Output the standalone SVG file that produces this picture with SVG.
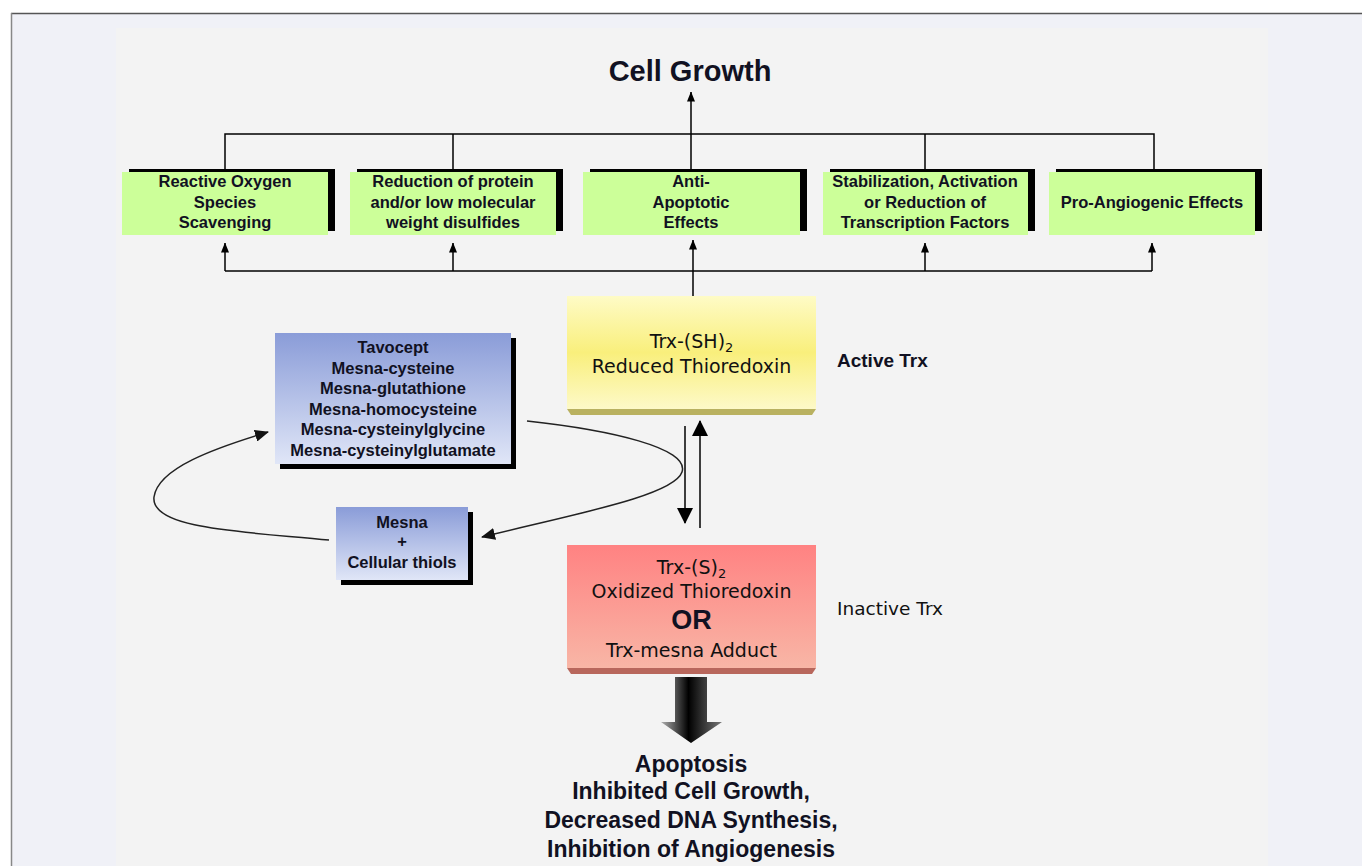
<svg xmlns="http://www.w3.org/2000/svg" width="1362" height="866" viewBox="0 0 1362 866">
<defs>
<style>
.g{fill:#ccff99}
.sh{fill:#000}
.bt{font-family:"Liberation Sans",Arial,sans-serif;font-weight:bold;fill:#111122;text-anchor:middle}
.rt{font-family:"DejaVu Sans",Verdana,sans-serif;fill:#111;text-anchor:middle}
.st{text-anchor:start}
.ln{fill:none;stroke:#000;stroke-width:1.5}
.cv{fill:none;stroke:#222;stroke-width:1.5}
</style>
<marker id="sa" viewBox="0 0 10 8" refX="9.5" refY="4" markerWidth="10" markerHeight="8" markerUnits="userSpaceOnUse" orient="auto"><path d="M0,0 L10,4 L0,8 z" fill="#000"/></marker>
<marker id="ba" viewBox="0 0 16 16" refX="15" refY="8" markerWidth="16" markerHeight="16" markerUnits="userSpaceOnUse" orient="auto"><path d="M0,0 L16,8 L0,16 z" fill="#000"/></marker>
<marker id="ca" viewBox="0 0 14 12" refX="13" refY="6" markerWidth="14" markerHeight="12" markerUnits="userSpaceOnUse" orient="auto"><path d="M0,0 L14,6 L0,12 z" fill="#111"/></marker>
<linearGradient id="blue" x1="0" y1="0" x2="0" y2="1"><stop offset="0" stop-color="#8a9cd8"/><stop offset="1" stop-color="#e0e6f7"/></linearGradient>
<linearGradient id="yel" x1="0" y1="0" x2="0" y2="1"><stop offset="0" stop-color="#fefbc6"/><stop offset="0.5" stop-color="#f9ef7c"/><stop offset="1" stop-color="#fdf9c8"/></linearGradient>
<linearGradient id="red" x1="0" y1="0" x2="0" y2="1"><stop offset="0" stop-color="#ff8282"/><stop offset="1" stop-color="#f8b6a6"/></linearGradient>
<linearGradient id="arr" x1="0" y1="0" x2="1" y2="0"><stop offset="0" stop-color="#b0b0b0"/><stop offset="0.45" stop-color="#000"/><stop offset="1" stop-color="#777"/></linearGradient>
</defs>
<rect x="0" y="0" width="1362" height="866" fill="#ffffff"/>
<rect x="12" y="14" width="1350" height="852" fill="#f0f1f7"/>
<rect x="116" y="28" width="1152" height="838" fill="#f3f3f3"/>
<line x1="11" y1="13.5" x2="1362" y2="13.5" stroke="#555" stroke-width="1.5"/>
<line x1="11.5" y1="13" x2="11.5" y2="866" stroke="#888" stroke-width="1.5"/>

<g id="connectors">
<path class="ln" d="M691,134 L691,92" marker-end="url(#sa)"/>
<path class="ln" d="M225,170 L225,134 L1154,134 L1154,170"/>
<path class="ln" d="M453,134 L453,170 M925,134 L925,170 M691,134 L691,170"/>
<path class="ln" d="M225,271 L1152,271"/>
<path class="ln" d="M225,271 L225,243" marker-end="url(#sa)"/>
<path class="ln" d="M453,271 L453,243" marker-end="url(#sa)"/>
<path class="ln" d="M925,271 L925,243" marker-end="url(#sa)"/>
<path class="ln" d="M1152,271 L1152,243" marker-end="url(#sa)"/>
<path class="ln" d="M693,296 L693,240" marker-end="url(#sa)"/>
<path class="ln" d="M685,426 L685,523" marker-end="url(#ba)"/>
<path class="ln" d="M700,528 L700,421" marker-end="url(#ba)"/>
<path class="cv" d="M329,540 C250,532 150,530 154,497 C158,468 215,448 268,432" marker-end="url(#ca)"/>
<path class="cv" d="M527,421 C610,430 690,448 682,472 C674,496 570,515 482,537" marker-end="url(#ca)"/>
</g>

<g id="title"><text class="bt" x="690" y="81" font-size="29" fill="#000">Cell Growth</text></g>

<g id="ros">
<rect class="sh" x="129" y="169" width="206" height="62"/>
<rect class="g" x="122" y="172" width="206" height="63"/>
<text class="bt" font-size="16.5" x="225" y="187">Reactive Oxygen</text>
<text class="bt" font-size="16.5" x="225" y="208">Species</text>
<text class="bt" font-size="16.5" x="225" y="228">Scavenging</text>
</g>
<g id="reduction">
<rect class="sh" x="357" y="169" width="206" height="62"/>
<rect class="g" x="350" y="172" width="206" height="63"/>
<text class="bt" font-size="16.5" x="453" y="187">Reduction of protein</text>
<text class="bt" font-size="16.5" x="453" y="208">and/or low molecular</text>
<text class="bt" font-size="16.5" x="453" y="228">weight disulfides</text>
</g>
<g id="antiapoptotic">
<rect class="sh" x="590" y="169" width="217" height="62"/>
<rect class="g" x="583" y="172" width="217" height="63"/>
<text class="bt" font-size="16.5" x="691" y="187">Anti-</text>
<text class="bt" font-size="16.5" x="691" y="208">Apoptotic</text>
<text class="bt" font-size="16.5" x="691" y="228">Effects</text>
</g>
<g id="transcription">
<rect class="sh" x="830" y="169" width="205" height="62"/>
<rect class="g" x="823" y="172" width="205" height="63"/>
<text class="bt" font-size="16.5" x="925" y="187">Stabilization, Activation</text>
<text class="bt" font-size="16.5" x="925" y="208">or Reduction of</text>
<text class="bt" font-size="16.5" x="925" y="228">Transcription Factors</text>
</g>
<g id="angiogenic">
<rect class="sh" x="1056" y="169" width="206" height="62"/>
<rect class="g" x="1049" y="172" width="206" height="63"/>
<text class="bt" font-size="16.5" x="1152" y="208">Pro-Angiogenic Effects</text>
</g>

<g id="reducedTrx">
<polygon points="567,409 816,409 812,415 571,415" fill="#b9b160"/>
<rect x="567" y="296" width="249" height="113" fill="url(#yel)"/>
<text class="rt" font-size="19" x="691.5" y="348">Trx-(SH)<tspan font-size="13" dy="4">2</tspan></text>
<text class="rt" font-size="19" x="691.5" y="373">Reduced Thioredoxin</text>
</g>
<g id="activeLabel"><text class="bt st" font-size="19" x="837" y="367">Active Trx</text></g>

<g id="compounds">
<rect class="sh" x="280" y="338" width="236" height="131"/>
<rect x="275" y="333" width="236" height="131" fill="url(#blue)"/>
<text class="bt" font-size="16.5" x="393" y="353">Tavocept</text>
<text class="bt" font-size="16.5" x="393" y="373.5">Mesna-cysteine</text>
<text class="bt" font-size="16.5" x="393" y="394">Mesna-glutathione</text>
<text class="bt" font-size="16.5" x="393" y="414.5">Mesna-homocysteine</text>
<text class="bt" font-size="16.5" x="393" y="435">Mesna-cysteinylglycine</text>
<text class="bt" font-size="16.5" x="393" y="455.5">Mesna-cysteinylglutamate</text>
</g>

<g id="mesna">
<rect class="sh" x="341" y="512" width="132" height="73"/>
<rect x="336" y="507" width="132" height="73" fill="url(#blue)"/>
<text class="bt" font-size="16.5" x="402" y="528">Mesna</text>
<text class="bt" font-size="16.5" x="402" y="547">+</text>
<text class="bt" font-size="16.5" x="402" y="568">Cellular thiols</text>
</g>

<g id="oxidizedTrx">
<polygon points="567,668 816,668 812,674 571,674" fill="#b8675c"/>
<rect x="567" y="545" width="249" height="123" fill="url(#red)"/>
<text class="rt" font-size="19" x="691.5" y="574">Trx-(S)<tspan font-size="13" dy="4">2</tspan></text>
<text class="rt" font-size="19" x="691.5" y="598">Oxidized Thioredoxin</text>
<text class="bt" font-size="27" x="691.5" y="629" fill="#000">OR</text>
<text class="rt" font-size="19" x="691.5" y="657">Trx-mesna Adduct</text>
</g>
<g id="inactiveLabel"><text class="rt st" font-size="18.5" x="837" y="615">Inactive Trx</text></g>

<g id="bigArrow">
<polygon points="675,677 707,677 707,722 722,722 691,743 661,722 675,722" fill="url(#arr)"/>
</g>

<g id="outcomes">
<text class="bt" font-size="23" x="691" y="772" fill="#111">Apoptosis</text>
<text class="bt" font-size="23" x="691" y="799" fill="#111">Inhibited Cell Growth,</text>
<text class="bt" font-size="23" x="691" y="828" fill="#111">Decreased DNA Synthesis,</text>
<text class="bt" font-size="23" x="691" y="857" fill="#111">Inhibition of Angiogenesis</text>
</g>
</svg>
